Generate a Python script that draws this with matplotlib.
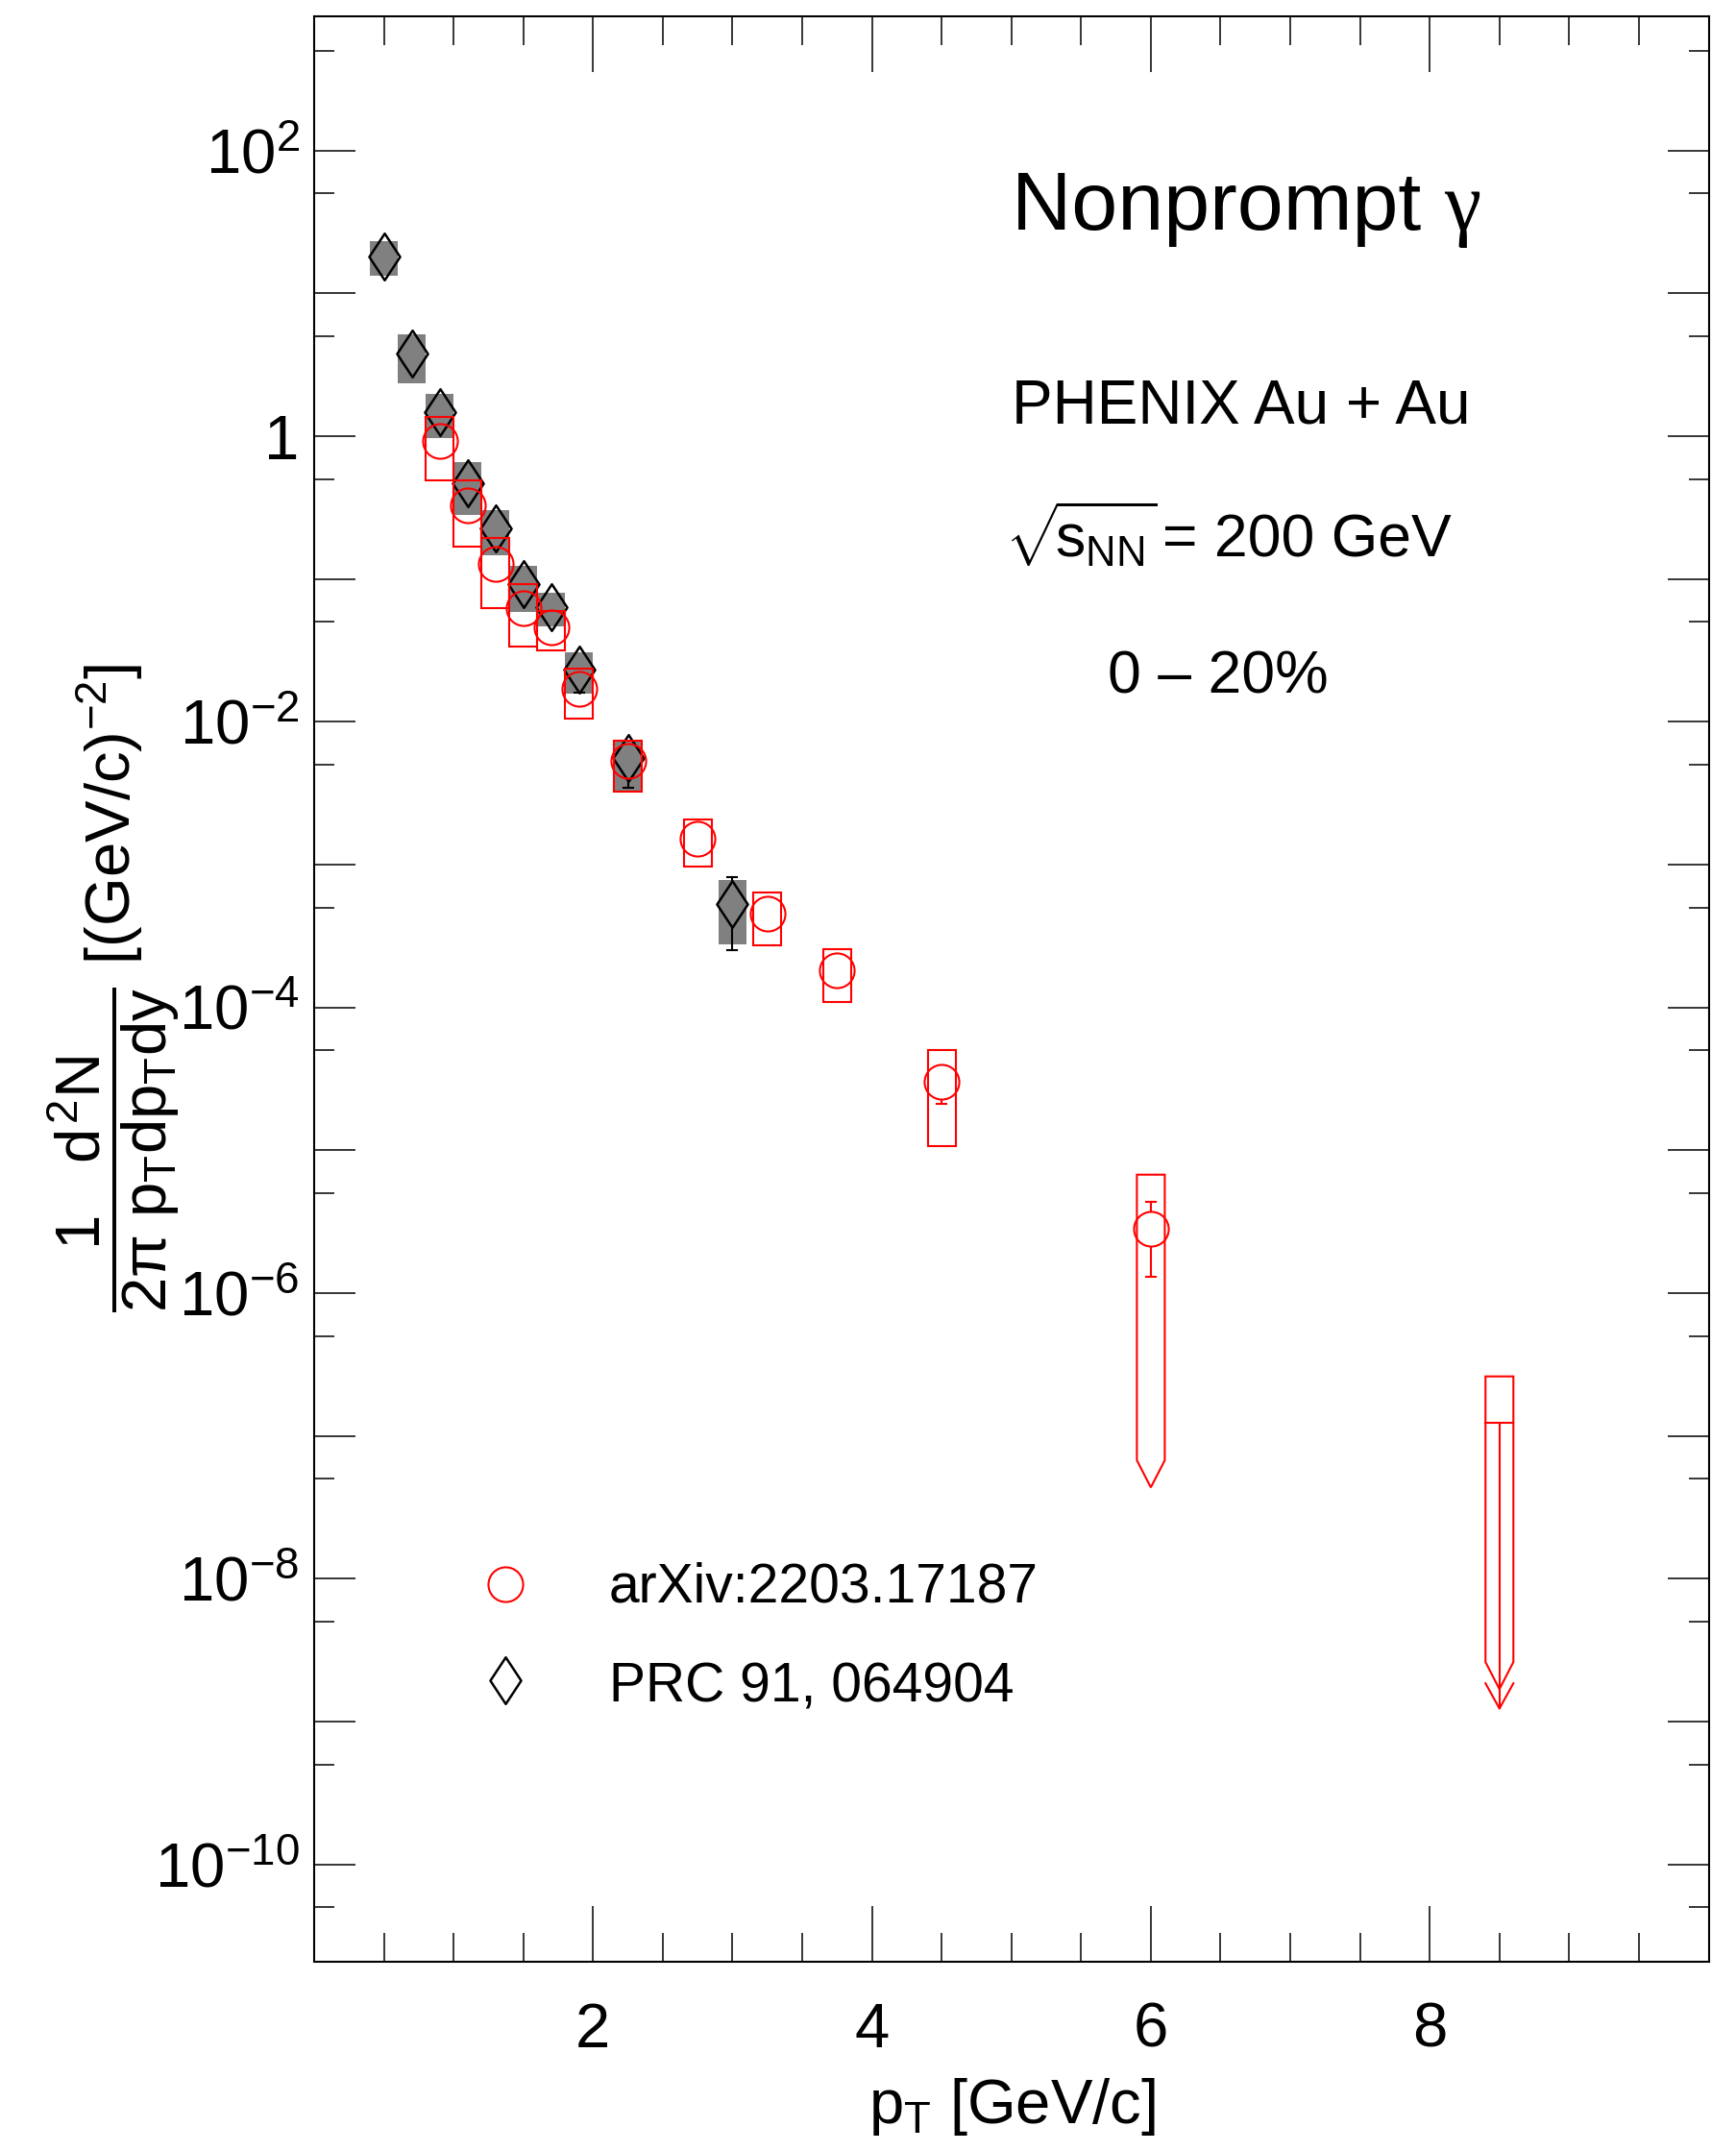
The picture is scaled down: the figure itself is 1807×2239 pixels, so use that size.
import numpy as np
import matplotlib.pyplot as plt
from matplotlib.patches import Rectangle, Polygon
from matplotlib.path import Path
from matplotlib.ticker import FixedLocator, FuncFormatter

plt.rcParams['font.family'] = ['Liberation Sans', 'DejaVu Sans']
plt.rcParams['mathtext.fontset'] = 'custom'
plt.rcParams['mathtext.rm'] = 'Liberation Sans'
plt.rcParams['mathtext.it'] = 'Liberation Sans'
plt.rcParams['mathtext.bf'] = 'Liberation Sans:bold'
plt.rcParams['mathtext.sf'] = 'Liberation Sans'

# PRC 91, 064904 (nonprompt photons, 0-20%)
prc_pt = [0.5, 0.7, 0.9, 1.1, 1.3, 1.5, 1.7, 1.9, 2.25, 3.0]
prc_y = [18.2, 3.77, 1.47, 0.466, 0.226, 0.0916, 0.0632, 0.0233, 0.00558, 5.32e-4]
prc_stat = [0.3, 0.08, 0.03, 0.012, 0.006, 0.003, 0.002, 0.0073, 0.00215, 2.8e-4]
prc_sys_dn = [4.9, 1.41, 0.50, 0.184, 0.079, 0.0331, 0.0164, 0.0075, 0.00239, 2.55e-4]
prc_sys_up = [5.0, 1.39, 0.51, 0.192, 0.077, 0.032, 0.0169, 0.0073, 0.00182, 2.48e-4]

# arXiv:2203.17187
arx_pt = [0.9, 1.1, 1.3, 1.5, 1.7, 1.9, 2.25, 2.75, 3.25, 3.75, 4.5, 6.0]
arx_y = [0.921, 0.328, 0.1268, 0.0622, 0.0456, 0.0171, 0.0053, 0.001525,
         4.56e-4, 1.82e-4, 3.01e-5, 2.82e-6]
arx_stat = [0.02, 0.008, 0.004, 0.002, 0.0015, 0.0008, 0.0003, 1e-4,
            3e-5, 1.2e-5, 8.8e-6, 1.52e-6]
arx_sys_dn = [0.431, 0.1604, 0.0646, 0.0287, 0.0141, 0.00663, 0.00207, 5.57e-4,
              1.83e-4, 7.3e-5, 1.947e-5, 2.82e-6]   # last one reaches zero
arx_sys_up = [0.436, 0.162, 0.0668, 0.0294, 0.0143, 0.00645, 0.0021, 5.55e-4,
              1.85e-4, 7.3e-5, 1.99e-5, 3.93e-6]

# upper limit at the highest pT bin
ul_pt = [8.5]
ul_y = [1.233e-7]
ul_sys_up = [1.377e-7]

RED = '#ff0000'
GRAY = '#808080'
HALF_W = 0.1          # half width of systematic boxes in pT
ARROW_DEC = 2.0       # arrow length in decades
TIP_DEC = 0.19        # arrow tip length in decades

fig = plt.figure(figsize=(18.08, 22.39), dpi=100)
W, H = 1808, 2239
L, R, T, B = 327, 1778.5, 17, 2042
ax = fig.add_axes([L / W, 1 - B / H, (R - L) / W, (B - T) / H])
ax.set_xlim(0, 10)
ax.set_yscale('log')
ax.set_ylim(2.08e-11, 871)

for s in ax.spines.values():
    s.set_linewidth(1.5)

ax.xaxis.set_major_locator(FixedLocator([2, 4, 6, 8]))
ax.xaxis.set_minor_locator(FixedLocator([v for v in np.arange(0.5, 10, 0.5) if v % 2 != 0]))
ax.yaxis.set_major_locator(FixedLocator(10.0 ** np.arange(-11, 4)))
ax.yaxis.set_minor_locator(FixedLocator(5 * 10.0 ** np.arange(-11, 3)))


def ylab(v, pos):
    e = int(round(np.log10(v)))
    if e == 0:
        return '1'
    if e % 2:
        return ''
    return r'$10^{%d}$' % e


ax.yaxis.set_major_formatter(FuncFormatter(ylab))
ax.xaxis.set_major_formatter(FuncFormatter(lambda v, p: '%d' % v))
ax.tick_params(which='both', direction='in', top=True, right=True, width=1.1,
               labelsize=47)
ax.tick_params(axis='x', which='major', length=42, pad=30)
ax.tick_params(axis='x', which='minor', length=21.6)
ax.tick_params(axis='y', which='major', length=31, pad=11)
ax.tick_params(axis='y', which='minor', length=15)

diamond = Path([(0, 1), (0.66, 0), (0, -1), (-0.66, 0), (0, 1)],
               [Path.MOVETO, Path.LINETO, Path.LINETO, Path.LINETO, Path.CLOSEPOLY])
DIA_MS = 35
DIA_MEW = 1.8

# systematic boxes
for x, y, dn, up in zip(prc_pt, prc_y, prc_sys_dn, prc_sys_up):
    ax.add_patch(Rectangle((x - HALF_W, y - dn), 2 * HALF_W, dn + up,
                           facecolor=GRAY, edgecolor='none', zorder=1))


def arrow_box(x, top):
    bot = top / 10 ** ARROW_DEC
    tip = bot / 10 ** TIP_DEC
    return Polygon([(x - HALF_W, top), (x + HALF_W, top), (x + HALF_W, bot),
                    (x, tip), (x - HALF_W, bot)], closed=True, fill=False,
                   edgecolor=RED, lw=1.5, zorder=3)


for x, y, dn, up in zip(arx_pt, arx_y, arx_sys_dn, arx_sys_up):
    if y - dn <= 0:
        ax.add_patch(arrow_box(x, y + up))
    else:
        ax.add_patch(Rectangle((x - HALF_W, y - dn), 2 * HALF_W, dn + up,
                               fill=False, edgecolor=RED, lw=1.5, zorder=3))

for x, y, up in zip(ul_pt, ul_y, ul_sys_up):
    ax.add_patch(arrow_box(x, y + up))
    ax.plot([x - HALF_W, x + HALF_W], [y, y], color=RED, lw=1.5, zorder=3)
    tip = y / 10 ** ARROW_DEC
    ax.plot([x, x], [y, tip], color=RED, lw=1.5, zorder=3)
    barb = tip * 10 ** 0.177
    ax.plot([x - HALF_W, x, x + HALF_W], [barb, tip, barb], color=RED, lw=1.5, zorder=3)


def stat_bars(xs, ys, errs, gap_px, color, z):
    inv = ax.transData.inverted()
    for x, y, e in zip(xs, ys, errs):
        px, py = ax.transData.transform((x, y))
        for end, sgn in ((y + e, 1), (y - e, -1)):
            if end <= 0:
                continue
            pe = ax.transData.transform((x, end))[1]
            start = py + sgn * gap_px
            if (pe - start) * sgn <= 0:
                continue
            a = inv.transform([(px, start), (px, pe)])
            ax.plot(a[:, 0], a[:, 1], color=color, lw=1.5, zorder=z)
            c = inv.transform([(px - 5, pe), (px + 5, pe)])
            ax.plot(c[:, 0], c[:, 1], color=color, lw=1.5, zorder=z)


stat_bars(prc_pt, prc_y, prc_stat, 24, 'black', 2)
stat_bars(arx_pt, arx_y, arx_stat, 19, RED, 4)

ax.plot(prc_pt, prc_y, ls='none', marker=diamond, ms=DIA_MS, mfc='none', mec='black',
        mew=DIA_MEW, zorder=2)
ax.plot(arx_pt, arx_y, ls='none', marker='o', ms=26, mfc='none', mec=RED,
        mew=1.5, zorder=4)

# legend
ax.plot([0.1368], [0.1941], transform=ax.transAxes, ls='none', marker='o', ms=26,
        mfc='none', mec=RED, mew=1.5)
ax.plot([0.1368], [0.1447], transform=ax.transAxes, ls='none', marker=diamond,
        ms=DIA_MS, mfc='none', mec='black', mew=DIA_MEW)
ax.text(0.2115, 0.1847, 'arXiv:2203.17187', transform=ax.transAxes, fontsize=41)
ax.text(0.2115, 0.1338, 'PRC 91, 064904', transform=ax.transAxes, fontsize=41)

# labels
title = fig.text(1053 / W, 1 - 239 / H, 'Nonprompt ', fontsize=62, va='baseline')
renderer = fig.canvas.get_renderer()
tb = title.get_window_extent(renderer)
fig.text(tb.x1 / W, 1 - 239 / H, 'γ', fontsize=62, va='baseline',
         family=['Liberation Serif', 'DejaVu Serif'])
fig.text(1053 / W, 1 - 440 / H, 'PHENIX Au + Au', fontsize=46, va='baseline')
fig.text(1046 / W, 1 - 580 / H, r'$\sqrt{\!s_{NN}}$', fontsize=45, va='baseline')
fig.text(1210 / W, 1 - 580 / H, '= 200 GeV', fontsize=45, va='baseline')
fig.text(1153 / W, 1 - 722 / H, '0 – 20%', fontsize=45, va='baseline')

fig.text(1053 / W, 1 - 2210 / H, r'$p_{T}$ [GeV/c]', fontsize=47, ha='center',
         va='baseline')
fig.text(118 / W, 1 - 1028 / H,
         r'$\dfrac{1\quad d^{2}N}{2\pi\ p_{T}dp_{T}dy}$ [(GeV/c)$^{-2}$]',
         fontsize=47, rotation=90, ha='center', va='center')

fig.savefig('out.png', dpi=100)
